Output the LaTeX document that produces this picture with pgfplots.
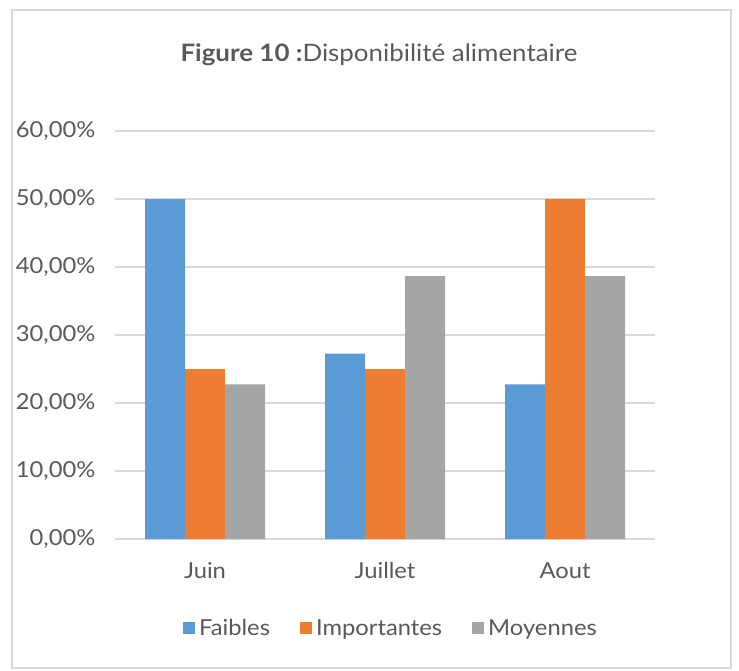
\documentclass[border=0pt]{standalone}
\usepackage{fontspec}
\setmainfont{Lato}[FakeStretch=1.08]
\usepackage{pgfplots}
\pgfplotsset{compat=1.18}
\definecolor{cBlue}{HTML}{5B9BD5}
\definecolor{cOrange}{HTML}{ED7D31}
\definecolor{cGray}{HTML}{A5A5A5}
\definecolor{txt}{HTML}{595959}
\definecolor{cGrid}{HTML}{D9D9D9}
\begin{document}
\begin{tikzpicture}[x=1pt,y=1pt]
  \path (0,0) rectangle (739,670);
  \draw[cGrid, line width=1.5pt] (12,2) rectangle (731,660);
  \node[txt, font=\fontsize{24}{28}\selectfont] at (379,615)
    {{\bfseries Figure 10 :}Disponibilité alimentaire};
  \begin{axis}[
    at={(115pt,131pt)}, anchor=south west,
    scale only axis, width=540pt, height=408pt,
    ybar=0pt, bar width=40pt,
    xmin=-0.5, xmax=2.5, ymin=0, ymax=60,
    xtick={0,1,2}, xticklabels={Juin,Juillet,Aout},
    ytick={0,10,20,30,40,50,60},
    yticklabels={{0,00\%},{10,00\%},{20,00\%},{30,00\%},{40,00\%},{50,00\%},{60,00\%}},
    axis line style={draw=none},
    major tick length=0pt,
    xmajorgrids=false, ymajorgrids=true,
    grid style={cGrid, line width=1.5pt},
    ticklabel style={txt, font=\fontsize{22}{26}\selectfont},
    yticklabel style={xshift=-16pt},
    xticklabel style={yshift=-20pt},
    legend style={at={(0.511,-0.218)}, anchor=center, draw=none,
      font=\fontsize{22}{26}\selectfont, text=txt,
      /tikz/every odd column/.append style={column sep=2pt},
      /tikz/every even column/.append style={column sep=28pt}},
    legend columns=3,
    legend image code/.code={\fill[#1,draw=none] (0pt,-6pt) rectangle (12pt,6pt);},
  ]
    \addplot[fill=cBlue, draw=none] coordinates {(0,50) (1,27.27) (2,22.73)};
    \addplot[fill=cOrange, draw=none] coordinates {(0,25) (1,25) (2,50)};
    \addplot[fill=cGray, draw=none] coordinates {(0,22.73) (1,38.64) (2,38.64)};
    \legend{Faibles,Importantes,Moyennes}
  \end{axis}
\end{tikzpicture}
\end{document}
